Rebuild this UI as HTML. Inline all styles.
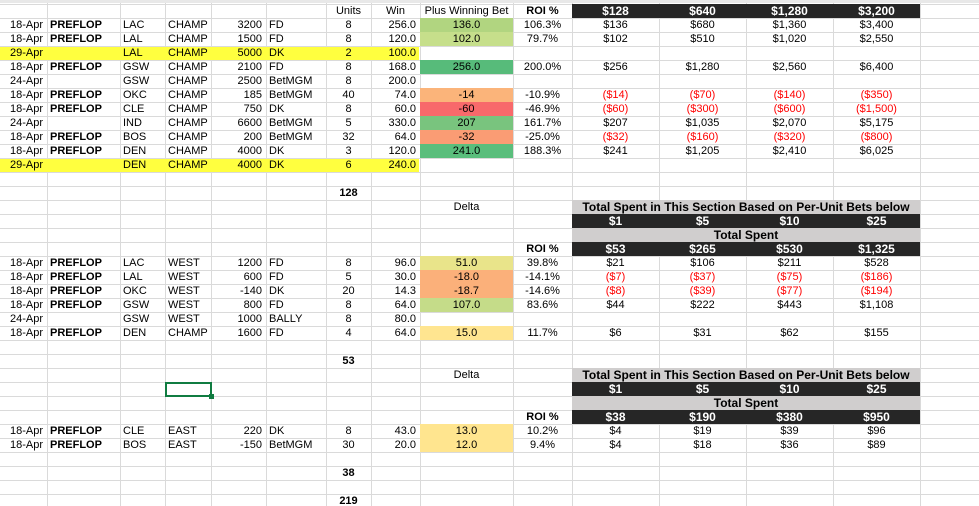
<!DOCTYPE html>
<html><head><meta charset="utf-8">
<style>
html,body{margin:0;padding:0;background:#fff;}
#sheet{position:relative;width:979px;height:506px;overflow:hidden;font-family:"Liberation Sans",Arial,sans-serif;font-size:11px;color:#000;}
.c{position:absolute;height:14px;line-height:14px;white-space:nowrap;overflow:visible;box-sizing:border-box;}
.gv{position:absolute;top:0;width:1px;height:506px;background:#dadada;}
.gh{position:absolute;left:0;height:1px;width:979px;background:#dadada;}
</style></head><body>
<div id="sheet"></div>
<script>
const colX=[0,47,120,165,211,266,326,371,420,513,572,659,746,833,920,979];
const rowTop=i=>3.5+14*i;
const sec1=[
["18-Apr","PREFLOP","LAC","CHAMP","3200","FD","8","256.0","136.0","106.3%","$136","$680","$1,360","$3,400","#b1d580",0],
["18-Apr","PREFLOP","LAL","CHAMP","1500","FD","8","120.0","102.0","79.7%","$102","$510","$1,020","$2,550","#c6df8b",0],
["29-Apr","","LAL","CHAMP","5000","DK","2","100.0","","","","","","","",1],
["18-Apr","PREFLOP","GSW","CHAMP","2100","FD","8","168.0","256.0","200.0%","$256","$1,280","$2,560","$6,400","#57bb7a",0],
["24-Apr","","GSW","CHAMP","2500","BetMGM","8","200.0","","","","","","","",0],
["18-Apr","PREFLOP","OKC","CHAMP","185","BetMGM","40","74.0","-14","-10.9%","($14)","($70)","($140)","($350)","#fbb47a",0],
["18-Apr","PREFLOP","CLE","CHAMP","750","DK","8","60.0","-60","-46.9%","($60)","($300)","($600)","($1,500)","#f8696b",0],
["24-Apr","","IND","CHAMP","6600","BetMGM","5","330.0","207","161.7%","$207","$1,035","$2,070","$5,175","#79c47e",0],
["18-Apr","PREFLOP","BOS","CHAMP","200","BetMGM","32","64.0","-32","-25.0%","($32)","($160)","($320)","($800)","#fa9c74",0],
["18-Apr","PREFLOP","DEN","CHAMP","4000","DK","3","120.0","241.0","188.3%","$241","$1,205","$2,410","$6,025","#5abe7c",0],
["29-Apr","","DEN","CHAMP","4000","DK","6","240.0","","","","","","","",1]];
const sec2=[
["18-Apr","PREFLOP","LAC","WEST","1200","FD","8","96.0","51.0","39.8%","$21","$106","$211","$528","#e9e48a",0],
["18-Apr","PREFLOP","LAL","WEST","600","FD","5","30.0","-18.0","-14.1%","($7)","($37)","($75)","($186)","#fbb07a",0],
["18-Apr","PREFLOP","OKC","WEST","-140","DK","20","14.3","-18.7","-14.6%","($8)","($39)","($77)","($194)","#fbb07a",0],
["18-Apr","PREFLOP","GSW","WEST","800","FD","8","64.0","107.0","83.6%","$44","$222","$443","$1,108","#c5dc89",0],
["24-Apr","","GSW","WEST","1000","BALLY","8","80.0","","","","","","","",0],
["18-Apr","PREFLOP","DEN","CHAMP","1600","FD","4","64.0","15.0","11.7%","$6","$31","$62","$155","#ffe590",0]];
const sec3=[
["18-Apr","PREFLOP","CLE","EAST","220","DK","8","43.0","13.0","10.2%","$4","$19","$39","$96","#ffe58f",0],
["18-Apr","PREFLOP","BOS","EAST","-150","BetMGM","30","20.0","12.0","9.4%","$4","$18","$36","$89","#ffe58f",0]];
const totals=[["128",13],["53",25],["38",33],["219",35]];
const unitBets=["$1","$5","$10","$25"];
const spent2=["$53","$265","$530","$1,325"];
const spent3=["$38","$190","$380","$950"];
const top1=["$128","$640","$1,280","$3,200"];

const S=document.getElementById('sheet');
function box(x,y,w,h,bg){const d=document.createElement('div');d.className='c';d.style.left=x+'px';d.style.top=y+'px';d.style.width=w+'px';d.style.height=h+'px';d.style.background=bg;S.appendChild(d);return d;}
function cell(r,c0,c1,text,opt){opt=opt||{};
 const d=document.createElement('div');d.className='c';
 d.style.left=colX[c0]+'px';d.style.width=(colX[c1]-colX[c0])+'px';d.style.top=rowTop(r)+'px';
 d.style.textAlign=opt.a||'center';
 if(opt.a==='right')d.style.paddingRight='4px';
 if(opt.a==='left')d.style.paddingLeft='3px';
 if(opt.b)d.style.fontWeight='bold';
 if(opt.bg)d.style.background=opt.bg;
 if(opt.col)d.style.color=opt.col;
 if(opt.fs)d.style.fontSize=opt.fs;
 d.textContent=text;S.appendChild(d);return d;}
colX.slice(1,15).forEach(x=>{const g=document.createElement('div');g.className='gv';g.style.left=x+'px';S.appendChild(g);});
for(let i=0;i<37;i++){const g=document.createElement('div');g.className='gh';g.style.top=Math.round(rowTop(i))+'px';S.appendChild(g);}
const tb=box(0,0,979,3,'#e8e8e8');



const names=['date','tag','team','market','odds','book','units','win','delta','roi','ret1','ret2','ret3','ret4'];
function drawRow(r,row){
 if(row[15]){const h=box(0,Math.round(rowTop(r))+1,419,13,'#ffff3f');
  
  }
 const al=['right','left','left','left','right','left','center','right','center','center','center','center','center','center'];
 for(let k=0;k<14;k++){
  if(row[k]==='')continue;
  const o={a:al[k]};
  if(k===1)o.b=1;
  if(k===8)o.bg=row[14];
  if(k>=10&&row[k][0]==='(')o.col='#ff0000';
  const d=cell(r,k,k+1,row[k],o);
  
  
 }
}
[["Units",6],["Win",7],["Plus Winning Bet",8]].forEach(h=>{const d=cell(0,h[1],h[1]+1,h[0]);
 
 });
function darkRow(r,vals){
 const b=box(colX[10],rowTop(r)+0.5,colX[14]-colX[10],13.5,'#262626');
 
 
 vals.forEach((v,i)=>{const d=cell(r,10+i,11+i,v,{b:1,col:'#fff',fs:'12px'});
  
  });
}
function grayRow(r,text){
 const d=cell(r,10,14,text,{b:1,bg:'#d0cece',fs:'12px'});
 
 
}
function roiHdr(r){const d=cell(r,9,10,'ROI %',{b:1});
 
 }
roiHdr(0);darkRow(0,top1);
sec1.forEach((row,i)=>drawRow(1+i,row));
[14,26].forEach(r=>{const d=cell(r,8,9,'Delta');
 
 
 grayRow(r,'Total Spent in This Section Based on Per-Unit Bets below');
 darkRow(r+1,unitBets);
 grayRow(r+2,'Total Spent');
 roiHdr(r+3);
});
darkRow(17,spent2);darkRow(29,spent3);
sec2.forEach((row,i)=>drawRow(18+i,row));
sec3.forEach((row,i)=>drawRow(30+i,row));
totals.forEach(t=>{const d=cell(t[1],6,7,t[0],{b:1});
 
 });
const sel=box(colX[3],Math.round(rowTop(27)),colX[4]-colX[3]+1,15,'transparent');
sel.style.border='2px solid #107c41';


const hd=box(colX[4]-2,Math.round(rowTop(27))+12,5,5,'#107c41');


</script>
</body></html>
